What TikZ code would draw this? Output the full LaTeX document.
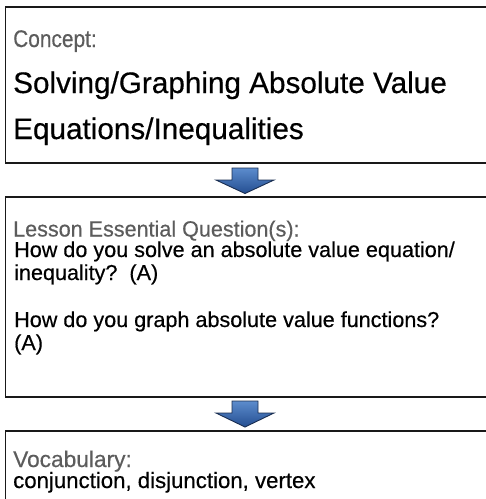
\documentclass[tikz,border=0pt]{standalone}
\usepackage{fontspec}
\setmainfont[FakeBold=0.45]{Liberation Sans}
\newfontfamily\narrowfont[FakeStretch=0.87,FakeBold=0.45]{Liberation Sans}
\newfontfamily\semifont[FakeStretch=0.98,FakeBold=0.45]{Liberation Sans}
\definecolor{hdrgray}{RGB}{92,92,92}
\definecolor{arrowtop}{RGB}{92,140,205}
\definecolor{arrowbot}{RGB}{36,78,145}
\definecolor{arrowline}{RGB}{25,45,80}
\begin{document}
\begin{tikzpicture}[x=1pt,y=-1pt,
  box/.style={draw=black!90, line width=1.5pt, anchor=north west, minimum width=540pt, inner sep=0pt},
  hdr/.style={anchor=base west, inner sep=0pt, text=hdrgray},
  txt/.style={anchor=base west, inner sep=0pt, text=black},
  blockarrow/.style={draw=arrowline, line width=0.9pt, line join=miter, top color=arrowtop, bottom color=arrowbot}]
\useasboundingbox (0,0) rectangle (486,499);
\clip (0,0) rectangle (486,499);
% boxes
\node[box, minimum height=156pt] (b1) at (4.5,6) {};
\node[box, minimum height=200pt] (b2) at (4.5,196) {};
\node[box, minimum height=120pt] (b3) at (4.5,430) {};
% arrows
\path[blockarrow] (232,168) -- (258,168) -- (258,180) -- (274,180) -- (245,193.5) -- (216,180) -- (232,180) -- cycle;
\path[blockarrow] (232,401) -- (258,401) -- (258,413) -- (274,413) -- (245,427) -- (216,413) -- (232,413) -- cycle;
% texts box 1
\node[hdr, font=\narrowfont\fontsize{24}{28}\selectfont] (c1) at (13,47) {Concept:};
\node[txt, font=\fontsize{29.7}{34}\selectfont] (t1) at (13,93) {Solving/Graphing Absolute Value};
\node[txt, font=\fontsize{29.7}{34}\selectfont] (t2) at (13,139) {Equations/Inequalities};
% texts box 2
\node[hdr, font=\semifont\fontsize{22}{26}\selectfont] (c2) at (13,236.5) {Lesson Essential Question(s):};
\node[txt, font=\fontsize{21.6}{25}\selectfont] (q1) at (14,257) {How do you solve an absolute value equation/};
\node[txt, font=\fontsize{21.6}{25}\selectfont] (q2) at (14,280) {inequality?\ \ (A)};
\node[txt, font=\fontsize{21.6}{25}\selectfont] (q3) at (14,327) {How do you graph absolute value functions?};
\node[txt, font=\fontsize{21.6}{25}\selectfont] (q4) at (14,350) {(A)};
% texts box 3
\node[hdr, font=\fontsize{22.7}{26}\selectfont] (c3) at (13,467) {Vocabulary:};
\node[txt, font=\fontsize{22.2}{26}\selectfont] (v1) at (13,488) {conjunction, disjunction, vertex};
\end{tikzpicture}
\end{document}
